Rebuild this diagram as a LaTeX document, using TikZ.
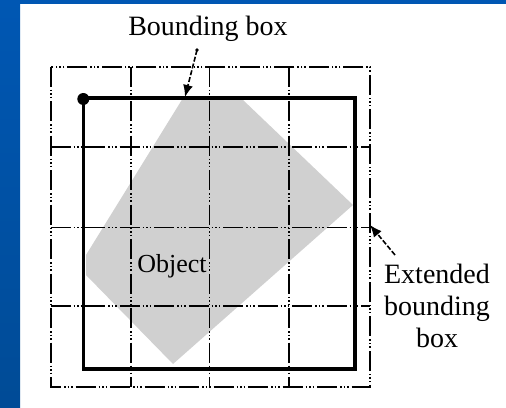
\documentclass[tikz,border=0pt]{standalone}
\usepackage{fontspec}
\setmainfont{Liberation Serif}
\usetikzlibrary{arrows.meta}

\definecolor{slideblue}{HTML}{0057B3}
\definecolor{slidebluedark}{HTML}{004B96}
\definecolor{objgray}{HTML}{D0D0D0}

\tikzset{
  gridline/.style={line width=1.6pt, dash pattern=on 20pt off 3pt on 1.5pt off 2pt on 1.5pt off 2pt on 1.5pt off 3pt},
  bbox/.style={line width=3.6pt},
  lbl/.style={font=\fontsize{28}{32}\selectfont, inner sep=0pt},
  pointer/.style={line width=1.6pt, dash pattern=on 5pt off 2pt, -{Latex[length=12pt,width=10pt]}}
}

\begin{document}
\begin{tikzpicture}[x=1pt,y=-1pt]
    \useasboundingbox (0,0) rectangle (506,407);

    % Slide background
    \shade[top color=slideblue, bottom color=slidebluedark] (0,0) rectangle (20,407);
    \fill[slideblue] (0,0) rectangle (506,4);

    % Object (rotated shape)
    \fill[objgray] (183,98) -- (243,100) -- (353,205) -- (173,364)
        -- (86,275) -- (86,255) -- cycle;

    % Extended bounding box and its grid
    \foreach \x in {130.7,209.3,288.7} {
        \draw[gridline] (\x,66.7) -- (\x,386.7);
    }
    \foreach \y in {146.7,227.3,306} {
        \draw[gridline] (50.7,\y) -- (370,\y);
    }
    \draw[gridline] (50.7,66.7) rectangle (370,386.7);

    % Bounding box
    \draw[bbox] (83.3,97.7) rectangle (355,369);
    \fill (83.3,99) circle (6);

    % Labels
    \node[lbl, anchor=base] (bblabel) at (208,35) {Bounding box};
    \node[lbl, anchor=north, align=center] (extlabel) at (437,263.5) {Extended\\bounding\\box};
    \node[lbl, font=\fontsize{26}{30}\selectfont, anchor=base] (objlabel) at (172,272) {Object};

    % Pointers
    \coordinate (bbtail) at (197,50);
    \coordinate (bbtip) at (185,97);
    \coordinate (exttail) at (395,255);
    \coordinate (exttip) at (370,225);
    \fill (bbtail) circle (1.8);
    \draw[pointer] (bbtail) -- (bbtip);
    \draw[pointer] (exttail) -- (exttip);
\end{tikzpicture}
\end{document}
